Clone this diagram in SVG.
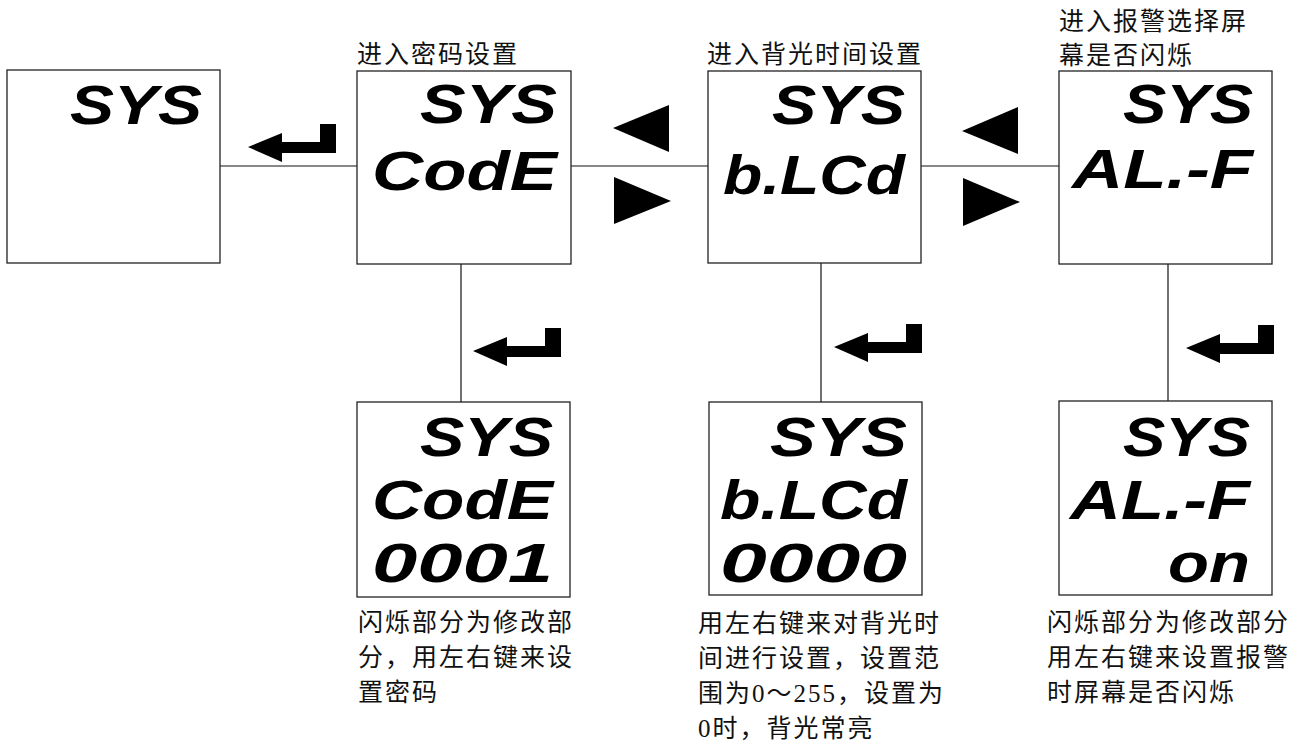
<svg xmlns="http://www.w3.org/2000/svg" xmlns:xlink="http://www.w3.org/1999/xlink" width="1312" height="744" viewBox="0 0 1312 744">
<style>
.box{fill:#fff;stroke:#222;stroke-width:1.3}
.ln{stroke:#111;stroke-width:1.2;fill:none}
.cn{font-family:"Liberation Serif","Noto Sans CJK SC",serif;font-size:25px;letter-spacing:2px;fill:#111}
.seg{font-family:"Liberation Sans",Arial,sans-serif;font-weight:bold;font-style:italic;font-size:56px;fill:#000}
.sym{fill:#000}
</style>
<defs>
<path id="enter" d="M0,0 L34,-14 L34,-5 L72,-5 L72,-23 L88,-23 L88,6 L34,6 L34,15 Z"/>
</defs>
<rect width="1312" height="744" fill="#fff"/>
<g id="connectors">
<line class="ln" x1="220" y1="166" x2="357" y2="166"/>
<line class="ln" x1="571" y1="166" x2="708" y2="166"/>
<line class="ln" x1="921" y1="166" x2="1059" y2="166"/>
<line class="ln" x1="461" y1="264" x2="461" y2="402"/>
<line class="ln" x1="821" y1="263" x2="821" y2="402"/>
<line class="ln" x1="1168" y1="264" x2="1168" y2="401"/>
<use class="sym" xlink:href="#enter" href="#enter" transform="translate(248,147)"/>
<use class="sym" xlink:href="#enter" href="#enter" transform="translate(473,351)"/>
<use class="sym" xlink:href="#enter" href="#enter" transform="translate(834,347)"/>
<use class="sym" xlink:href="#enter" href="#enter" transform="translate(1186,348)"/>
<polygon class="sym" points="613,128 669,105 669,152"/>
<polygon class="sym" points="614,177 614,224 671,201"/>
<polygon class="sym" points="962,131 1018,107 1018,154"/>
<polygon class="sym" points="963,178 963,226 1020,202"/>
</g>
<g id="node-sys">
<rect class="box" x="7" y="70" width="213" height="193"/>
<text class="seg" x="70" y="124" textLength="132" lengthAdjust="spacingAndGlyphs">SYS</text>
</g>
<g id="node-code">
<text class="cn" x="357" y="63">进入密码设置</text>
<rect class="box" x="357" y="71" width="214" height="193"/>
<text class="seg" x="420" y="123" textLength="137" lengthAdjust="spacingAndGlyphs">SYS</text>
<text class="seg" x="372" y="190" textLength="185" lengthAdjust="spacingAndGlyphs">CodE</text>
</g>
<g id="node-blcd">
<text class="cn" x="707" y="63">进入背光时间设置</text>
<rect class="box" x="708" y="71" width="213" height="192"/>
<text class="seg" x="772" y="124" textLength="133" lengthAdjust="spacingAndGlyphs">SYS</text>
<text class="seg" x="723" y="194" textLength="182" lengthAdjust="spacingAndGlyphs">b.LCd</text>
</g>
<g id="node-alf">
<text class="cn" x="1059" y="30">进入报警选择屏</text>
<text class="cn" x="1059" y="64">幕是否闪烁</text>
<rect class="box" x="1059" y="71" width="213" height="193"/>
<text class="seg" x="1123" y="123" textLength="130" lengthAdjust="spacingAndGlyphs">SYS</text>
<text class="seg" x="1072" y="188" textLength="181" lengthAdjust="spacingAndGlyphs">AL.-F</text>
</g>
<g id="node-code-edit">
<rect class="box" x="357" y="402" width="213" height="195"/>
<text class="seg" x="420" y="456" textLength="133" lengthAdjust="spacingAndGlyphs">SYS</text>
<text class="seg" x="372" y="519" textLength="181" lengthAdjust="spacingAndGlyphs">CodE</text>
<text class="seg" x="372" y="582" textLength="181" lengthAdjust="spacingAndGlyphs">0001</text>
<text class="cn" x="358" y="631">闪烁部分为修改部</text>
<text class="cn" x="358" y="666">分，用左右键来设</text>
<text class="cn" x="358" y="701">置密码</text>
</g>
<g id="node-blcd-edit">
<rect class="box" x="709" y="402" width="213" height="193"/>
<text class="seg" x="770" y="456" textLength="137" lengthAdjust="spacingAndGlyphs">SYS</text>
<text class="seg" x="720" y="519" textLength="187" lengthAdjust="spacingAndGlyphs">b.LCd</text>
<text class="seg" x="720" y="582" textLength="187" lengthAdjust="spacingAndGlyphs">0000</text>
<text class="cn" x="698" y="632">用左右键来对背光时</text>
<text class="cn" x="698" y="667">间进行设置，设置范</text>
<text class="cn" x="698" y="702">围为0～255，设置为</text>
<text class="cn" x="698" y="737">0时，背光常亮</text>
</g>
<g id="node-alf-edit">
<rect class="box" x="1059" y="401" width="213" height="194"/>
<text class="seg" x="1123" y="456" textLength="127" lengthAdjust="spacingAndGlyphs">SYS</text>
<text class="seg" x="1070" y="519" textLength="180" lengthAdjust="spacingAndGlyphs">AL.-F</text>
<text class="seg" x="1168" y="582" textLength="82" lengthAdjust="spacingAndGlyphs">on</text>
<text class="cn" x="1047" y="631">闪烁部分为修改部分</text>
<text class="cn" x="1047" y="666">用左右键来设置报警</text>
<text class="cn" x="1047" y="701">时屏幕是否闪烁</text>
</g>
</svg>
